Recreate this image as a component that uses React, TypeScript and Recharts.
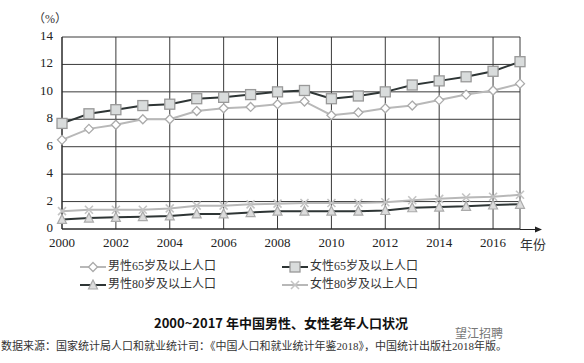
import React from "react";
import { LineChart, Line, XAxis, YAxis, CartesianGrid } from "recharts";

const years = [2000, 2001, 2002, 2003, 2004, 2005, 2006, 2007, 2008, 2009, 2010, 2011, 2012, 2013, 2014, 2015, 2016, 2017];
const male65 = [6.5, 7.3, 7.6, 8.0, 8.0, 8.6, 8.8, 8.9, 9.1, 9.3, 8.3, 8.5, 8.8, 9.0, 9.4, 9.8, 10.1, 10.6];
const female65 = [7.7, 8.4, 8.7, 9.0, 9.1, 9.5, 9.6, 9.8, 10.0, 10.1, 9.5, 9.7, 10.0, 10.5, 10.8, 11.1, 11.5, 12.2];
const male80 = [0.7, 0.8, 0.85, 0.9, 0.95, 1.1, 1.1, 1.2, 1.3, 1.3, 1.3, 1.3, 1.35, 1.55, 1.6, 1.65, 1.75, 1.8];
const female80 = [1.3, 1.4, 1.4, 1.4, 1.5, 1.7, 1.7, 1.8, 1.85, 1.9, 1.9, 1.9, 1.95, 2.1, 2.2, 2.3, 2.35, 2.5];
const xTicks = [2000, 2002, 2004, 2006, 2008, 2010, 2012, 2014, 2016];
const yTicks = [0, 2, 4, 6, 8, 10, 12, 14];
const seriesNames = ["男性65岁及以上人口", "女性65岁及以上人口", "男性80岁及以上人口", "女性80岁及以上人口"];
const unitLabel = "（%）";
const xUnit = "年份";
const title = "2000~2017 年中国男性、女性老年人口状况";
const source = "数据来源：国家统计局人口和就业统计司：《中国人口和就业统计年鉴2018》，中国统计出版社2018年版。";
const watermark = "望江招聘";

const data = years.map((y, i) => ({
  year: y,
  male65: male65[i],
  female65: female65[i],
  male80: male80[i],
  female80: female80[i],
}));

const DARK = "#2e3535";
const LIGHT = "#b8b8b8";

const Diamond = ({ cx, cy }: any) => (
  <polygon points={`${cx},${cy - 4.5} ${cx + 4.5},${cy} ${cx},${cy + 4.5} ${cx - 4.5},${cy}`} fill="#fff" stroke="#aaa" strokeWidth={1.3} />
);
const Square = ({ cx, cy }: any) => (
  <rect x={cx - 5} y={cy - 5} width={10} height={10} fill="#d9dcdc" stroke="#999" strokeWidth={1.3} />
);
const Tri = ({ cx, cy }: any) => (
  <polygon points={`${cx},${cy - 5} ${cx + 4.5},${cy + 4} ${cx - 4.5},${cy + 4}`} fill="#dcdcdc" stroke="#aaa" strokeWidth={1.2} />
);
const Cross = ({ cx, cy }: any) => (
  <g stroke="#c4c4c4" strokeWidth={1.6}>
    <line x1={cx - 4} y1={cy - 4} x2={cx + 4} y2={cy + 4} />
    <line x1={cx - 4} y1={cy + 4} x2={cx + 4} y2={cy - 4} />
  </g>
);

const LegendIcon = ({ color, Marker }: any) => (
  <svg width={26} height={12} style={{ verticalAlign: "middle" }}>
    <line x1={0} y1={6} x2={26} y2={6} stroke={color} strokeWidth={2} />
    <Marker cx={13} cy={6} />
  </svg>
);

const serif = "Liberation Serif";
const cjkSerif = "'Liberation Serif', 'Noto Sans CJK SC', serif";

const XTick = ({ x, y, payload }: any) => (
  <text x={x} y={y + 18} textAnchor="middle" fill="#222" fontSize={13} style={{ fontFamily: serif }}>
    {payload.value}
  </text>
);
const YTick = ({ x, y, payload }: any) => (
  <text x={x - 1} y={y + 3} textAnchor="end" fill="#222" fontSize={13} style={{ fontFamily: serif }}>
    {payload.value}
  </text>
);

export default function App() {
  const legendItems = [
    { name: seriesNames[0], color: LIGHT, Marker: Diamond, left: 80, top: 258 },
    { name: seriesNames[1], color: DARK, Marker: Square, left: 282, top: 258 },
    { name: seriesNames[2], color: DARK, Marker: Tri, left: 80, top: 276 },
    { name: seriesNames[3], color: LIGHT, Marker: Cross, left: 282, top: 276 },
  ];
  return (
    <div style={{ position: "absolute", left: 0, top: 0, width: 584, height: 363, background: "#fff", overflow: "hidden" }}>
      <LineChart width={584} height={363} data={data} margin={{ top: 37, right: 64, bottom: 104, left: 22 }}>
        <CartesianGrid stroke="#3a3a3a" strokeWidth={1} />
        <XAxis
          type="number"
          dataKey="year"
          domain={[2000, 2017]}
          ticks={xTicks}
          tickLine={false}
          tickSize={0}
          tickMargin={0}
          height={30}
          axisLine={{ stroke: "#222" }}
          tick={<XTick />}
          interval={0}
        />
        <YAxis
          domain={[0, 14]}
          ticks={yTicks}
          tickLine={false}
          tickSize={0}
          tickMargin={8}
          width={40}
          axisLine={{ stroke: "#222" }}
          tick={<YTick />}
          interval={0}
        />
        <Line dataKey="male80" stroke={DARK} strokeWidth={2} isAnimationActive={false} dot={(p: any) => <Tri key={`m80-${p.index}`} {...p} />} />
        <Line dataKey="female80" stroke={LIGHT} strokeWidth={2} isAnimationActive={false} dot={(p: any) => <Cross key={`f80-${p.index}`} {...p} />} />
        <Line dataKey="male65" stroke={LIGHT} strokeWidth={2} isAnimationActive={false} dot={(p: any) => <Diamond key={`m65-${p.index}`} {...p} />} />
        <Line dataKey="female65" stroke={DARK} strokeWidth={2} isAnimationActive={false} dot={(p: any) => <Square key={`f65-${p.index}`} {...p} />} />
      </LineChart>
      <svg width={584} height={363} style={{ position: "absolute", left: 0, top: 0, pointerEvents: "none" }}>
        <line x1={520} y1={229.5} x2={538} y2={229.5} stroke="#222" strokeWidth={1} />
        <polygon points="542,229.5 535,226.5 535,232.5" fill="#222" />
      </svg>
      <div style={{ position: "absolute", left: 33, top: 9, fontSize: 12, fontFamily: cjkSerif, color: "#333" }}>{unitLabel}</div>
      <div style={{ position: "absolute", left: 520, top: 234, fontSize: 13, fontFamily: "'Noto Sans CJK SC', serif", color: "#333" }}>{xUnit}</div>
      {legendItems.map((it) => (
        <div key={it.name} style={{ position: "absolute", left: it.left, top: it.top, fontSize: 12, fontFamily: cjkSerif, color: "#333", whiteSpace: "nowrap", lineHeight: "16px" }}>
          <LegendIcon color={it.color} Marker={it.Marker} />
          <span style={{ marginLeft: 2 }}>{it.name}</span>
        </div>
      ))}
      <div style={{ position: "absolute", left: 0, width: 562, top: 313, textAlign: "center", fontSize: 13, fontWeight: "bold", fontFamily: "'Noto Sans CJK SC', sans-serif", color: "#111" }}>{title}</div>
      <div style={{ position: "absolute", left: 455, top: 326, fontSize: 12, lineHeight: "13px", fontFamily: "'Noto Sans CJK SC', sans-serif", color: "#777" }}>{watermark}</div>
      <div style={{ position: "absolute", left: 1, top: 340, fontSize: 11, lineHeight: "12px", fontFamily: cjkSerif, color: "#333", whiteSpace: "nowrap" }}>{source}</div>
    </div>
  );
}
